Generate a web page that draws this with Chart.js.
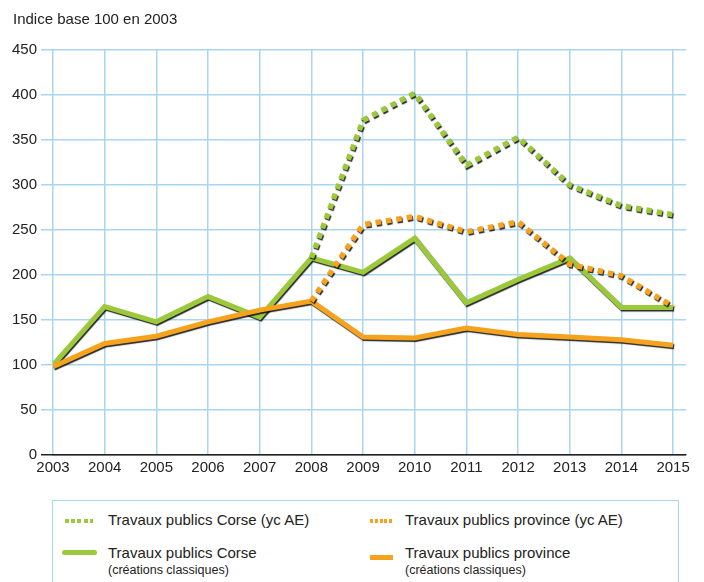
<!DOCTYPE html>
<html>
<head>
<meta charset="utf-8">
<script src="https://cdn.jsdelivr.net/npm/chart.js@4"></script>
<style>
  body { margin: 0; background: #fff; font-family: "Liberation Sans", Arial, sans-serif; color: #222; }
  #wrap { position: relative; width: 704px; height: 582px; overflow: hidden; }
  #title { position: absolute; left: 13px; top: 10px; font-size: 15px; }
  #c { position: absolute; left: 0; top: 0; }
  #legend { position: absolute; left: 52px; top: 500px; width: 625px; height: 100px;
    border: 1.5px solid #a9d5f0; }
  .item { position: absolute; font-size: 15px; line-height: 18px; }
  .item .sub { font-size: 12.5px; line-height: 16px; }
  .mk { position: absolute; }
  .dot-g { background: repeating-linear-gradient(90deg, #9cc93b 0 4px, transparent 4px 6.2px); height: 4px; }
  .dot-o { background: repeating-linear-gradient(90deg, #f5a31e 0 3px, transparent 3px 4.8px); height: 4px; }
</style>
</head>
<body>
<div id="wrap">
  <canvas id="c" width="704" height="490"></canvas>
  <div id="title">Indice base 100 en 2003</div>
  <div id="legend">
    <div class="mk dot-g" style="left:12px; top:18px; width:28px;"></div>
    <div class="item" style="left:55px; top:10px;">Travaux publics Corse (yc AE)</div>
    <div class="mk dot-o" style="left:317px; top:18px; width:23px;"></div>
    <div class="item" style="left:352px; top:10px;">Travaux publics province (yc AE)</div>
    <div class="mk" style="left:9px; top:49px; width:35px; height:5px; border-radius:3px; background:#9cc93b;"></div>
    <div class="item" style="left:55px; top:43px;">Travaux publics Corse<div class="sub">(créations classiques)</div></div>
    <div class="mk" style="left:317px; top:54px; width:23px; height:5px; background:#f5a31e;"></div>
    <div class="item" style="left:352px; top:43px;">Travaux publics province<div class="sub">(créations classiques)</div></div>
  </div>
</div>
<script>
const years = [2003, 2004, 2005, 2006, 2007, 2008, 2009, 2010, 2011, 2012, 2013, 2014, 2015];
const corseAE = [null, null, null, null, null, 219, 372, 402, 322, 353, 300, 277, 267];
const provinceAE = [null, null, null, null, null, 171, 256, 265, 248, 259, 212, 199, 165];
const corse = [100, 165, 148, 176, 153, 219, 203, 241, 169, 195, 219, 164, 164];
const province = [98, 124, 132, 148, 161, 171, 131, 130, 141, 134, 131, 128, 122];
const yTicks = [0, 50, 100, 150, 200, 250, 300, 350, 400, 450];

const GREEN = "#9cc93b", ORANGE = "#f5a31e", GRID = "#a9d5f0";

const pts = (vals) => years.map((y, i) => ({ x: y, y: vals[i] }));

const shadow = {
  id: "shadow",
  beforeDatasetDraw(chart) {
    const c = chart.ctx;
    c.save();
    c.shadowColor = "rgba(0,0,0,0.85)";
    c.shadowOffsetX = 1;
    c.shadowOffsetY = 1.5;
    c.shadowBlur = 1;
  },
  afterDatasetDraw(chart) { chart.ctx.restore(); },
};

new Chart(document.getElementById("c"), {
  type: "line",
  data: { datasets: [
    { label: "Travaux publics Corse (yc AE)", data: pts(corseAE), borderColor: GREEN,
      borderWidth: 5.5, borderDash: [5.5, 5], borderCapStyle: "butt", pointRadius: 0, order: 2 },
    { label: "Travaux publics province (yc AE)", data: pts(provinceAE), borderColor: ORANGE,
      borderWidth: 5.5, borderDash: [5.5, 5], borderCapStyle: "butt", pointRadius: 0, order: 1 },
    { label: "Travaux publics Corse", data: pts(corse), borderColor: GREEN,
      borderWidth: 5, borderJoinStyle: "miter", pointRadius: 0, order: 4 },
    { label: "Travaux publics province", data: pts(province), borderColor: ORANGE,
      borderWidth: 5, borderJoinStyle: "miter", pointRadius: 0, order: 3 },
  ]},
  options: {
    responsive: false, animation: false,
    layout: { padding: { top: 50, right: 18, left: 0, bottom: 0 } },
    scales: {
      x: {
        type: "linear", min: 2003, max: 2015.25,
        afterBuildTicks: s => { s.ticks = years.map(v => ({ value: v })); },
        afterFit: s => { s.height = 35; },
        ticks: { color: "#222", font: { family: "Liberation Sans", size: 15 }, padding: 4,
          callback: v => String(v), autoSkip: false, maxRotation: 0 },
        grid: { color: GRID, lineWidth: 1.5, drawTicks: false },
        border: { display: true, color: "#222", width: 1.3 },
      },
      y: {
        min: 0, max: 450,
        afterBuildTicks: s => { s.ticks = yTicks.map(v => ({ value: v })); },
        afterFit: s => { s.width = 53; },
        ticks: { color: "#222", font: { family: "Liberation Sans", size: 15 }, padding: 4 },
        grid: { color: c => c.tick && c.tick.value === 0 ? "#222" : GRID,
          lineWidth: 1.5, tickLength: 12 },
        border: { display: false },
      },
    },
    plugins: { legend: { display: false }, tooltip: { enabled: false } },
  },
  plugins: [shadow],
});
</script>
</body>
</html>
